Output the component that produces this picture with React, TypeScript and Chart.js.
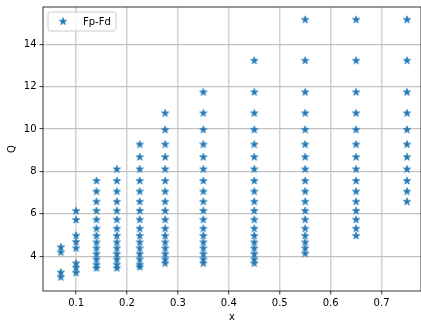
import React, { useEffect, useRef } from "react";
import { Chart, registerables } from "chart.js";

Chart.register(...registerables);

const SERIES_LABEL = "Fp-Fd";
const X_LABEL = "x";
const Y_LABEL = "Q";

const X_COLUMNS = [0.07, 0.1, 0.14, 0.18, 0.225, 0.275, 0.35, 0.45, 0.55, 0.65, 0.75];

const Q_AT_007 = [4.42, 4.18, 3.23, 3.01];
const Q_AT_010 = [6.13, 5.71, 4.97, 4.67, 4.37, 3.66, 3.46, 3.22];
const Q_AT_014 = [7.55, 7.05, 6.57, 6.14, 5.72, 5.3, 4.96, 4.65, 4.37, 4.1, 3.85, 3.6, 3.43];
const Q_AT_018 = [8.1, 7.55, 7.05, 6.57, 6.14, 5.72, 5.3, 4.96, 4.65, 4.37, 4.1, 3.85, 3.6, 3.43];
const Q_AT_0225 = [9.27, 8.67, 8.1, 7.55, 7.05, 6.57, 6.14, 5.72, 5.3, 4.96, 4.65, 4.37, 4.1, 3.85, 3.6, 3.48];
const Q_AT_0275 = [10.74, 9.96, 9.27, 8.67, 8.1, 7.55, 7.05, 6.57, 6.14, 5.72, 5.3, 4.96, 4.65, 4.37, 4.1, 3.85, 3.66];
const Q_AT_035 = [11.73, 10.74, 9.96, 9.27, 8.67, 8.1, 7.55, 7.05, 6.57, 6.14, 5.72, 5.3, 4.96, 4.65, 4.37, 4.1, 3.85, 3.66];
const Q_AT_045 = [13.22, 11.73, 10.74, 9.96, 9.27, 8.67, 8.1, 7.55, 7.05, 6.57, 6.14, 5.72, 5.3, 4.96, 4.65, 4.37, 4.1, 3.85, 3.66];
const Q_AT_055 = [15.15, 13.22, 11.73, 10.74, 9.96, 9.27, 8.67, 8.1, 7.55, 7.05, 6.57, 6.14, 5.72, 5.3, 4.96, 4.65, 4.37, 4.12];
const Q_AT_065 = [15.15, 13.22, 11.73, 10.74, 9.96, 9.27, 8.67, 8.1, 7.55, 7.05, 6.57, 6.14, 5.72, 5.3, 4.96];
const Q_AT_075 = [15.15, 13.22, 11.73, 10.74, 9.96, 9.27, 8.67, 8.1, 7.55, 7.05, 6.57];

const Q_COLUMNS = [
  Q_AT_007, Q_AT_010, Q_AT_014, Q_AT_018, Q_AT_0225, Q_AT_0275,
  Q_AT_035, Q_AT_045, Q_AT_055, Q_AT_065, Q_AT_075,
];

const X_TICKS = [0.1, 0.2, 0.3, 0.4, 0.5, 0.6, 0.7];
const Y_TICKS = [4, 6, 8, 10, 12, 14];

const X_MIN = 0.035;
const X_MAX = 0.7775;
const Y_MIN = 2.36;
const Y_MAX = 15.75;

const BLUE = "#1f77b4";
const FONT = "DejaVu Sans";

function makeStar(outer: number, color: string): HTMLCanvasElement {
  const size = Math.ceil(outer * 2 + 2);
  const c = document.createElement("canvas");
  c.width = size;
  c.height = size;
  const g = c.getContext("2d")!;
  const cx = size / 2;
  const cy = size / 2;
  g.beginPath();
  for (let i = 0; i < 10; i++) {
    const r = i % 2 === 0 ? outer : outer * 0.382;
    const a = -Math.PI / 2 + (i * Math.PI) / 5;
    const px = cx + r * Math.cos(a);
    const py = cy + r * Math.sin(a);
    if (i === 0) g.moveTo(px, py);
    else g.lineTo(px, py);
  }
  g.closePath();
  g.fillStyle = color;
  g.fill();
  g.strokeStyle = color;
  g.lineWidth = 0.7;
  g.lineJoin = "miter";
  g.stroke();
  return c;
}

export default function App() {
  const ref = useRef<HTMLCanvasElement | null>(null);

  useEffect(() => {
    document.body.style.margin = "0";
    const canvas = ref.current;
    if (!canvas) return;
    const star = makeStar(3.9, BLUE);

    const points: { x: number; y: number }[] = [];
    X_COLUMNS.forEach((x, i) => {
      Q_COLUMNS[i].forEach((q) => points.push({ x, y: q }));
    });

    const framePlugin = {
      id: "frameAndLegend",
      afterDatasetsDraw(chart: any) {
        const { ctx, chartArea } = chart;
        const { left, top, right, bottom } = chartArea;
        ctx.save();
        ctx.strokeStyle = "#000";
        ctx.lineWidth = 0.8;
        ctx.strokeRect(left, top, right - left, bottom - top);
        const lx = left + 5;
        const ly = top + 5;
        const lw = 68;
        const lh = 19;
        const r = 2.5;
        ctx.beginPath();
        ctx.moveTo(lx + r, ly);
        ctx.lineTo(lx + lw - r, ly);
        ctx.quadraticCurveTo(lx + lw, ly, lx + lw, ly + r);
        ctx.lineTo(lx + lw, ly + lh - r);
        ctx.quadraticCurveTo(lx + lw, ly + lh, lx + lw - r, ly + lh);
        ctx.lineTo(lx + r, ly + lh);
        ctx.quadraticCurveTo(lx, ly + lh, lx, ly + lh - r);
        ctx.lineTo(lx, ly + r);
        ctx.quadraticCurveTo(lx, ly, lx + r, ly);
        ctx.closePath();
        ctx.fillStyle = "rgba(255,255,255,0.8)";
        ctx.fill();
        ctx.strokeStyle = "#cccccc";
        ctx.lineWidth = 1;
        ctx.stroke();
        const cy = ly + lh / 2;
        ctx.drawImage(star, lx + 15 - star.width / 2, cy - star.height / 2);
        ctx.fillStyle = "#000";
        ctx.font = `10px "${FONT}"`;
        ctx.textBaseline = "middle";
        ctx.textAlign = "left";
        ctx.fillText(SERIES_LABEL, lx + 35, cy + 0.5);
        ctx.restore();
      },
    };

    const chart = new Chart(canvas, {
      type: "scatter",
      data: {
        datasets: [
          {
            label: SERIES_LABEL,
            data: points,
            pointStyle: star as any,
            pointRadius: 4,
            backgroundColor: BLUE,
            borderColor: BLUE,
          },
        ],
      },
      options: {
        animation: false,
        responsive: false,
        events: [],
        layout: { autoPadding: false, padding: { left: 0, right: 0, top: 7, bottom: 0 } },
        plugins: {
          legend: { display: false },
          tooltip: { enabled: false },
        },
        scales: {
          x: {
            type: "linear",
            min: X_MIN,
            max: X_MAX,
            afterBuildTicks: (scale: any) => {
              scale.ticks = X_TICKS.map((v) => ({ value: v }));
            },
            afterFit: (scale: any) => {
              scale.height = 30;
              scale.paddingLeft = 0;
              scale.paddingRight = 0;
            },
            border: { display: false },
            grid: {
              color: "#d2d2d2",
              lineWidth: 1.5,
              drawTicks: true,
              tickLength: 3.5,
              tickColor: "#000",
              tickWidth: 0.8,
            },
            ticks: {
              color: "#000",
              font: { family: FONT, size: 10 },
              padding: 3,
              maxRotation: 0,
              callback: (v: any) => Number(v).toFixed(1),
            },
            title: {
              display: true,
              text: X_LABEL,
              color: "#000",
              font: { family: FONT, size: 10 },
              padding: { top: 0, bottom: -2.7 },
            },
          },
          y: {
            type: "linear",
            min: Y_MIN,
            max: Y_MAX,
            afterBuildTicks: (scale: any) => {
              scale.ticks = Y_TICKS.map((v) => ({ value: v }));
            },
            afterFit: (scale: any) => {
              scale.width = 43;
              scale.paddingTop = 0;
              scale.paddingBottom = 0;
            },
            border: { display: false },
            grid: {
              color: "#c2c2c2",
              lineWidth: 1.2,
              drawTicks: true,
              tickLength: 3.5,
              tickColor: "#000",
              tickWidth: 0.8,
            },
            ticks: {
              color: "#000",
              font: { family: FONT, size: 10 },
              padding: 3,
              callback: (v: any) => String(v),
            },
            title: {
              display: true,
              text: Y_LABEL,
              color: "#000",
              font: { family: FONT, size: 10 },
              padding: { top: 6, bottom: 0 },
            },
          },
        },
      },
      plugins: [framePlugin],
    });

    return () => chart.destroy();
  }, []);

  return <canvas ref={ref} width={421} height={321} style={{ display: "block" }} />;
}
